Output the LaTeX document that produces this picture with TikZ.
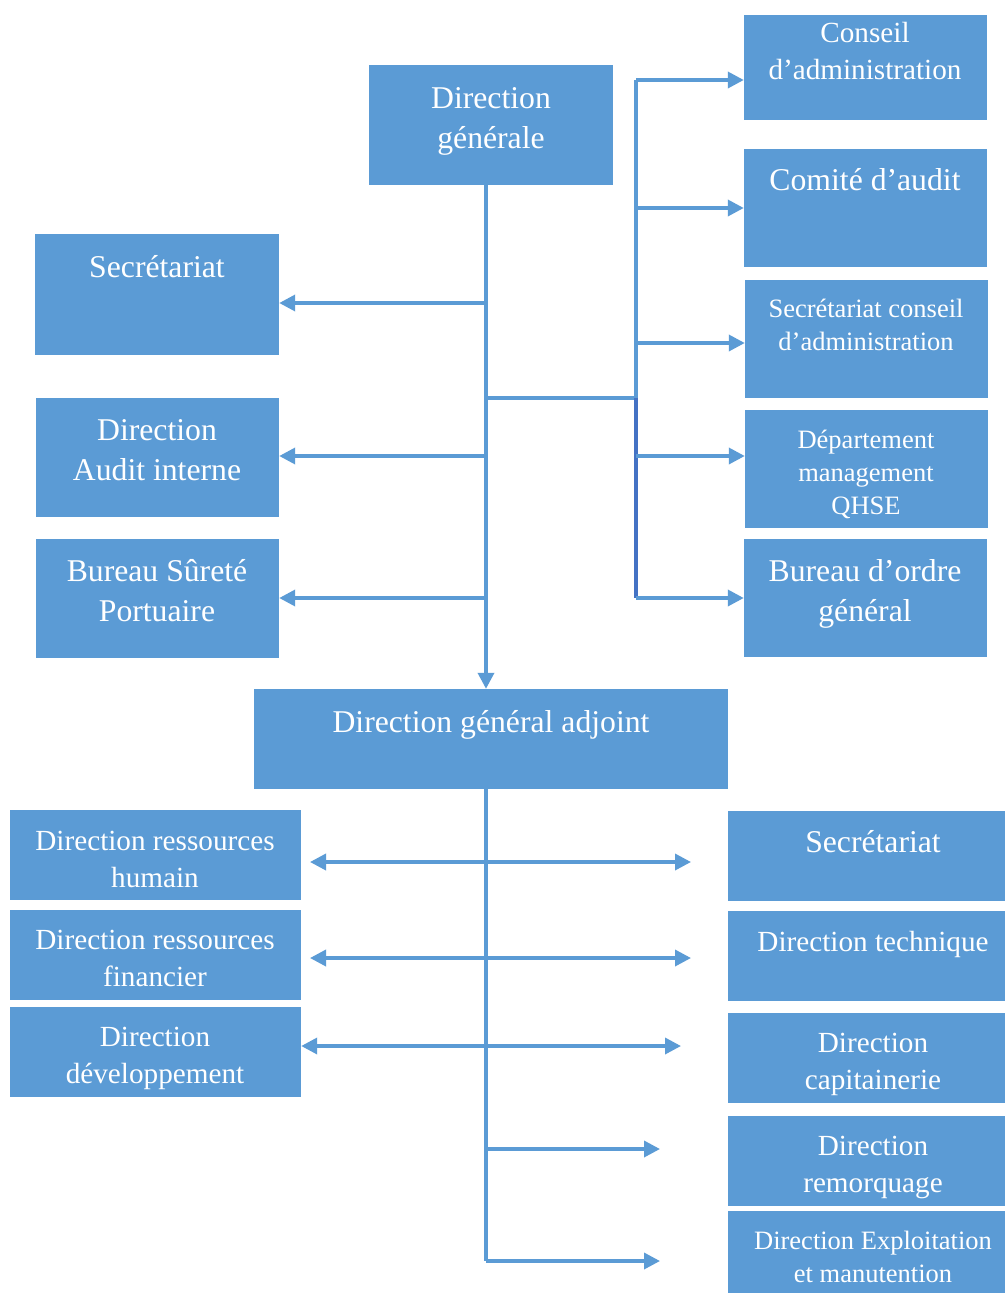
\documentclass[tikz,border=0pt]{standalone}
\usepackage{fontspec}
\setmainfont{Liberation Serif}
\usepackage{tikz}
\usetikzlibrary{arrows.meta}

\definecolor{unitblue}{HTML}{5B9BD5}
\definecolor{linkdark}{HTML}{4472C4}

\tikzset{
    unit/.style={fill=unitblue, draw=none, inner sep=0pt},
    bigtxt/.style={text=white, align=center, inner sep=0pt, font=\fontsize{31.7}{40}\selectfont},
    midtxt/.style={text=white, align=center, inner sep=0pt, font=\fontsize{29.2}{37}\selectfont},
    smalltxt/.style={text=white, align=center, inner sep=0pt, font=\fontsize{26.5}{33}\selectfont},
    link/.style={draw=unitblue, line width=3.5pt},
    arr/.style={link, -{Triangle[length=16pt, width=16pt]}},
    dblarr/.style={link, {Triangle[length=16pt, width=16pt]}-{Triangle[length=16pt, width=16pt]}}
}

\begin{document}
\begin{tikzpicture}[x=1pt, y=-1pt]
    	\useasboundingbox[fill=white] (0,0) rectangle (1004,1293);
    	% Boxes, top half:
    	\node[unit, minimum width=244pt, minimum height=120pt] (dg) at (491, 125) {};
    	\node[unit, minimum width=243pt, minimum height=105pt] (conseil) at (865.5, 67.5) {};
    	\node[unit, minimum width=243pt, minimum height=118pt] (comite) at (865.5, 208) {};
    	\node[unit, minimum width=243pt, minimum height=118pt] (secca) at (866.5, 339) {};
    	\node[unit, minimum width=243pt, minimum height=118pt] (qhse) at (866.5, 469) {};
    	\node[unit, minimum width=243pt, minimum height=118pt] (bog) at (865.5, 598) {};
    	\node[unit, minimum width=244pt, minimum height=121pt] (secg) at (157, 294.5) {};
    	\node[unit, minimum width=243pt, minimum height=119pt] (dai) at (157.5, 457.5) {};
    	\node[unit, minimum width=243pt, minimum height=119pt] (bsp) at (157.5, 598.5) {};
    	\node[unit, minimum width=474pt, minimum height=100pt] (dga) at (491, 739) {};
    	% Boxes, bottom half:
    	\node[unit, minimum width=291pt, minimum height=90pt] (drh) at (155.5, 855) {};
    	\node[unit, minimum width=291pt, minimum height=90pt] (drf) at (155.5, 955) {};
    	\node[unit, minimum width=291pt, minimum height=90pt] (ddev) at (155.5, 1052) {};
    	\node[unit, minimum width=282pt, minimum height=90pt] (seca) at (869, 856) {};
    	\node[unit, minimum width=282pt, minimum height=90pt] (dtech) at (869, 956) {};
    	\node[unit, minimum width=282pt, minimum height=90pt] (dcap) at (869, 1058) {};
    	\node[unit, minimum width=282pt, minimum height=90pt] (drem) at (869, 1161) {};
    	\node[unit, minimum width=282pt, minimum height=89pt] (dexp) at (869, 1255.5) {};
    	% Texts:
    	\node[bigtxt] (tdg) at (491, 121) {Direction\\générale};
    	\node[midtxt] (tconseil) at (865, 51.5) {Conseil\\d’administration};
    	\node[bigtxt] (tcomite) at (865, 180) {Comité d’audit};
    	\node[smalltxt] (tsecca) at (866, 324.5) {Secrétariat conseil\\d’administration};
    	\node[smalltxt] (tqhse) at (866, 474.5) {Département\\management\\QHSE};
    	\node[bigtxt] (tbog) at (865, 594) {Bureau d’ordre\\général};
    	\node[bigtxt] (tsecg) at (157, 267) {Secrétariat};
    	\node[bigtxt] (tdai) at (157, 450) {Direction\\Audit interne};
    	\node[bigtxt] (tbsp) at (157, 590.5) {Bureau Sûreté\\Portuaire};
    	\node[bigtxt] (tdga) at (491, 725) {Direction général adjoint};
    	\node[midtxt] (tdrh) at (155, 859.5) {Direction ressources\\humain};
    	\node[midtxt] (tdrf) at (155, 958.5) {Direction ressources\\financier};
    	\node[midtxt] (tddev) at (155, 1058.5) {Direction\\développement};
    	\node[bigtxt] (tseca) at (873, 842) {Secrétariat};
    	\node[midtxt] (tdtech) at (873, 944) {Direction technique};
    	\node[midtxt] (tdcap) at (873, 1064.5) {Direction\\capitainerie};
    	\node[midtxt] (tdrem) at (873, 1167.5) {Direction\\remorquage};
    	\node[smalltxt] (tdexp) at (873, 1256.5) {Direction Exploitation\\et manutention};
    	% Junction points:
    	\coordinate (trunk) at (486, 185);
    	\coordinate (fork) at (486, 398);
    	\coordinate (rtop) at (636, 80);
    	\coordinate (rmid) at (636, 398);
    	\coordinate (rbot) at (636, 598);
    	\coordinate (low) at (486, 1261);
    	% Top connectors:
    	\draw[arr] (dg.south -| trunk) -- (dga.north -| trunk);
    	\draw[arr] (486, 303) -- (secg.east |- 0, 303);
    	\draw[arr] (486, 456) -- (dai.east |- 0, 456);
    	\draw[arr] (486, 598) -- (bsp.east |- 0, 598);
    	\draw[link] (fork) -- (rmid);
    	\draw[link] (rtop) -- (rmid);
    	\draw[link, draw=linkdark] (rmid) -- (rbot);
    	\draw[arr] (rtop) -- (conseil.west |- rtop);
    	\draw[arr] (636, 208) -- (comite.west);
    	\draw[arr] (636, 343) -- (secca.west |- 0, 343);
    	\draw[arr] (636, 456) -- (qhse.west |- 0, 456);
    	\draw[arr] (rbot) -- (bog.west);
    	% Bottom connectors:
    	\draw[link] (dga.south -| trunk) -- (low);
    	\draw[dblarr] (310, 862) -- (691, 862);
    	\draw[dblarr] (310, 958) -- (691, 958);
    	\draw[dblarr] (ddev.east |- 0, 1046) -- (681, 1046);
    	\draw[arr] (486, 1149) -- (660, 1149);
    	\draw[arr] (low) -- (660, 1261);
    \end{tikzpicture}
\end{document}
